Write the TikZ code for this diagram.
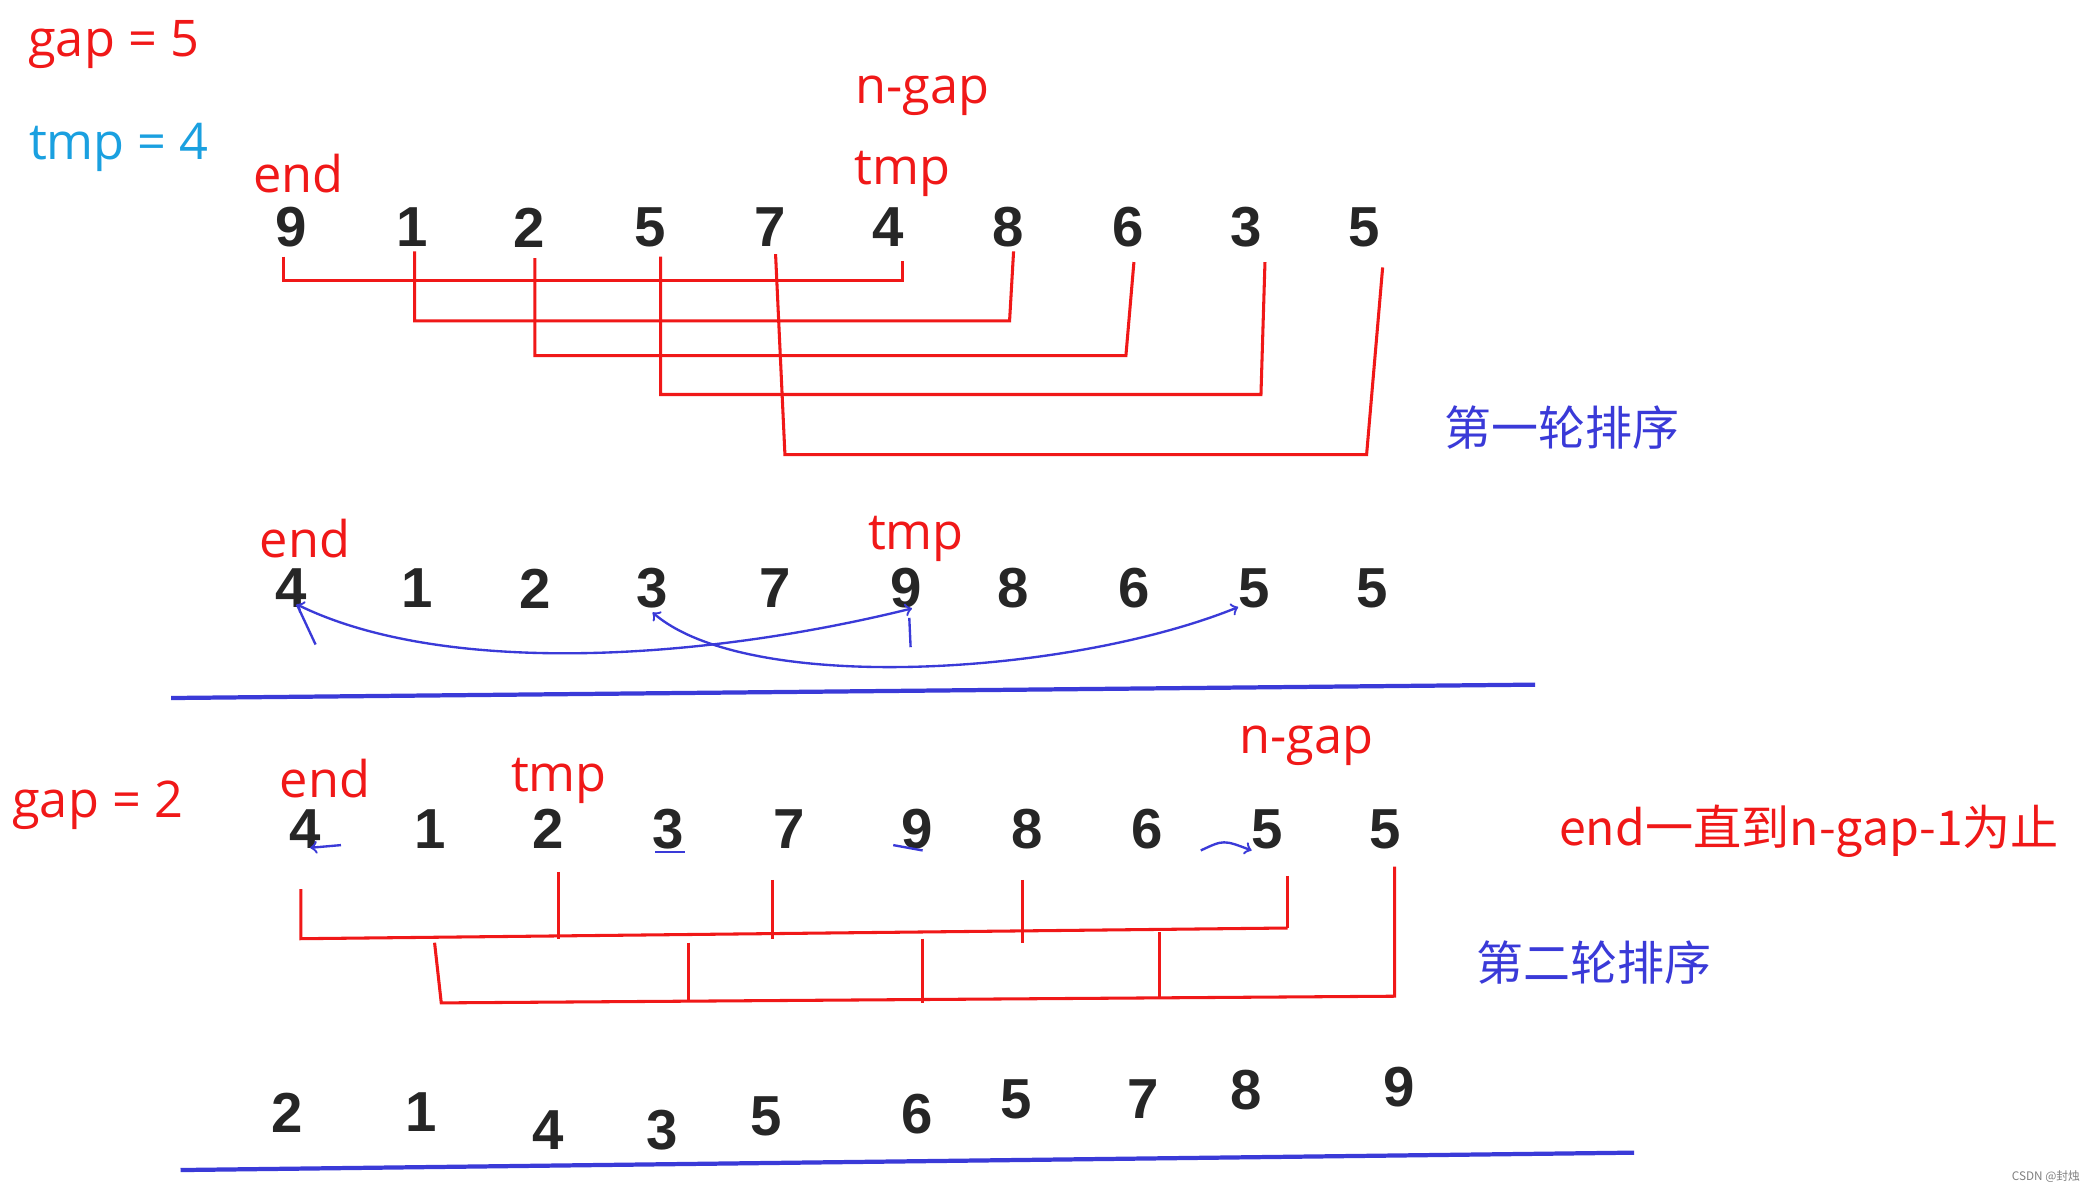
\documentclass[tikz,border=0pt]{standalone}
\usepackage{fontspec}
\setmainfont{Open Sans}
\newfontfamily\cjk{Noto Sans CJK SC}
\newfontfamily\dig{Liberation Sans}
\definecolor{rd}{HTML}{F01818}
\definecolor{bl}{HTML}{3A3AD8}
\definecolor{cy}{HTML}{1AA0E0}
\begin{document}
\begin{tikzpicture}[x=0.02cm,y=-0.02cm,
  d/.style={font=\dig\bfseries\fontsize{24}{24}\selectfont,text=black!85,inner sep=0pt},
  lab/.style={font=\fontsize{21.5}{21.5}\selectfont,text=rd,inner sep=0pt},
  cn/.style={font=\cjk\fontsize{20}{20}\selectfont,text=bl,inner sep=0pt},
  rl/.style={draw=rd,line width=1.3pt},
  bline/.style={draw=bl,line width=1.8pt},
  barr/.style={draw=bl,line width=1pt,->}]
\useasboundingbox (0,0) rectangle (1560,887);
\fill[white] (0,0) rectangle (1560,887);
% labels
\node[lab] (g5) at (85,33) {gap = 5};
\node[lab,text=cy] (t4) at (89,110) {tmp = 4};
\node[lab] (e1) at (223,130) {end};
\node[lab] (ng1) at (690,72) {n-gap};
\node[lab] (tm1) at (675,130) {tmp};
\node[cn] (c1) at (1168,320) {第一轮排序};
\node[lab] (e2) at (228,403) {end};
\node[lab] (tm2) at (685,403) {tmp};
\node[lab] (g2) at (73,602) {gap = 2};
\node[lab] (e3) at (243,582) {end};
\node[lab] (tm3) at (418,584) {tmp};
\node[lab] (ng3) at (977,558) {n-gap};
\node[lab,font=\cjk\fontsize{20.5}{20.5}\selectfont] (note) at (1353,622) {end一直到n-gap-1为止};
\node[cn] (c2) at (1192,720) {第二轮排序};
\node[font=\cjk\fontsize{5}{5}\selectfont,text=gray] (wm) at (1530,880) {CSDN @封烛};
% digits
\foreach \v/\x [count=\i] in {9/218,1/308,2/396,5/486,7/576,4/664,8/754,6/844,3/932,5/1020}
  \node[d] (a\i) at (\x,170) {\v};
\foreach \v/\x [count=\i] in {4/218,1/312,2/400,3/488,7/580,9/678,8/758,6/848,5/938,5/1026}
  \node[d] (b\i) at (\x,440) {\v};
\foreach \v/\x [count=\i] in {4/228,1/322,2/410,3/500,7/590,9/686,8/768,6/858,5/948,5/1036}
  \node[d] (c\i) at (\x,620) {\v};
\foreach \v/\x/\y [count=\i] in {2/215/832,1/315/832,4/410/845,3/495/845,5/573/835,6/686/833,5/760/822,7/855/822,8/932/815,9/1046/813}
  \node[d] (r\i) at (\x,\y) {\v};
% row1 connectors
\draw[rl] (212,192) |- (675,210) -- (675,195);
\draw[rl] (310,188) |- (755,240) -- (758,188);
\draw[rl] (400,193) |- (842,266) -- (848,196);
\draw[rl] (494,192) |- (943,295) -- (946,196);
\draw[rl] (580,190) -- (587,340) -- (1022,340) -- (1034,200);
% row2 arrows
\draw[barr,<->] (222,452) .. controls (330,505) and (520,495) .. (682,455);
\draw[bl,line width=1pt] (680,462) -- (681,484);
\draw[bl,line width=1pt] (222,452) -- (236,482);
\draw[barr,<->] (488,458) .. controls (560,520) and (800,505) .. (926,454);
\draw[bline] (128,522) -- (1148,512);
% row3 connectors
\draw[rl] (225,665) -- (225,702) -- (963,694);
\draw[rl] (418,652) -- (418,702);
\draw[rl] (578,658) -- (578,702);
\draw[rl] (765,658) -- (765,705);
\draw[rl] (963,655) -- (963,694);
\draw[rl] (325,705) -- (330,750) -- (1043,745) -- (1043,648);
\draw[rl] (515,705) -- (515,748);
\draw[rl] (690,702) -- (690,750);
\draw[rl] (867,697) -- (867,747);
% small blue marks row3
\draw[bl,line width=1pt,->] (255,632) -- (232,634);
\draw[bl,line width=1pt] (490,637) -- (512,637);
\draw[bl,line width=1pt] (668,632) -- (690,636);
\draw[bl,line width=1pt,->] (898,636) .. controls (915,628) .. (936,636);
\draw[bline] (135,875) -- (1222,862);
\end{tikzpicture}
\end{document}
